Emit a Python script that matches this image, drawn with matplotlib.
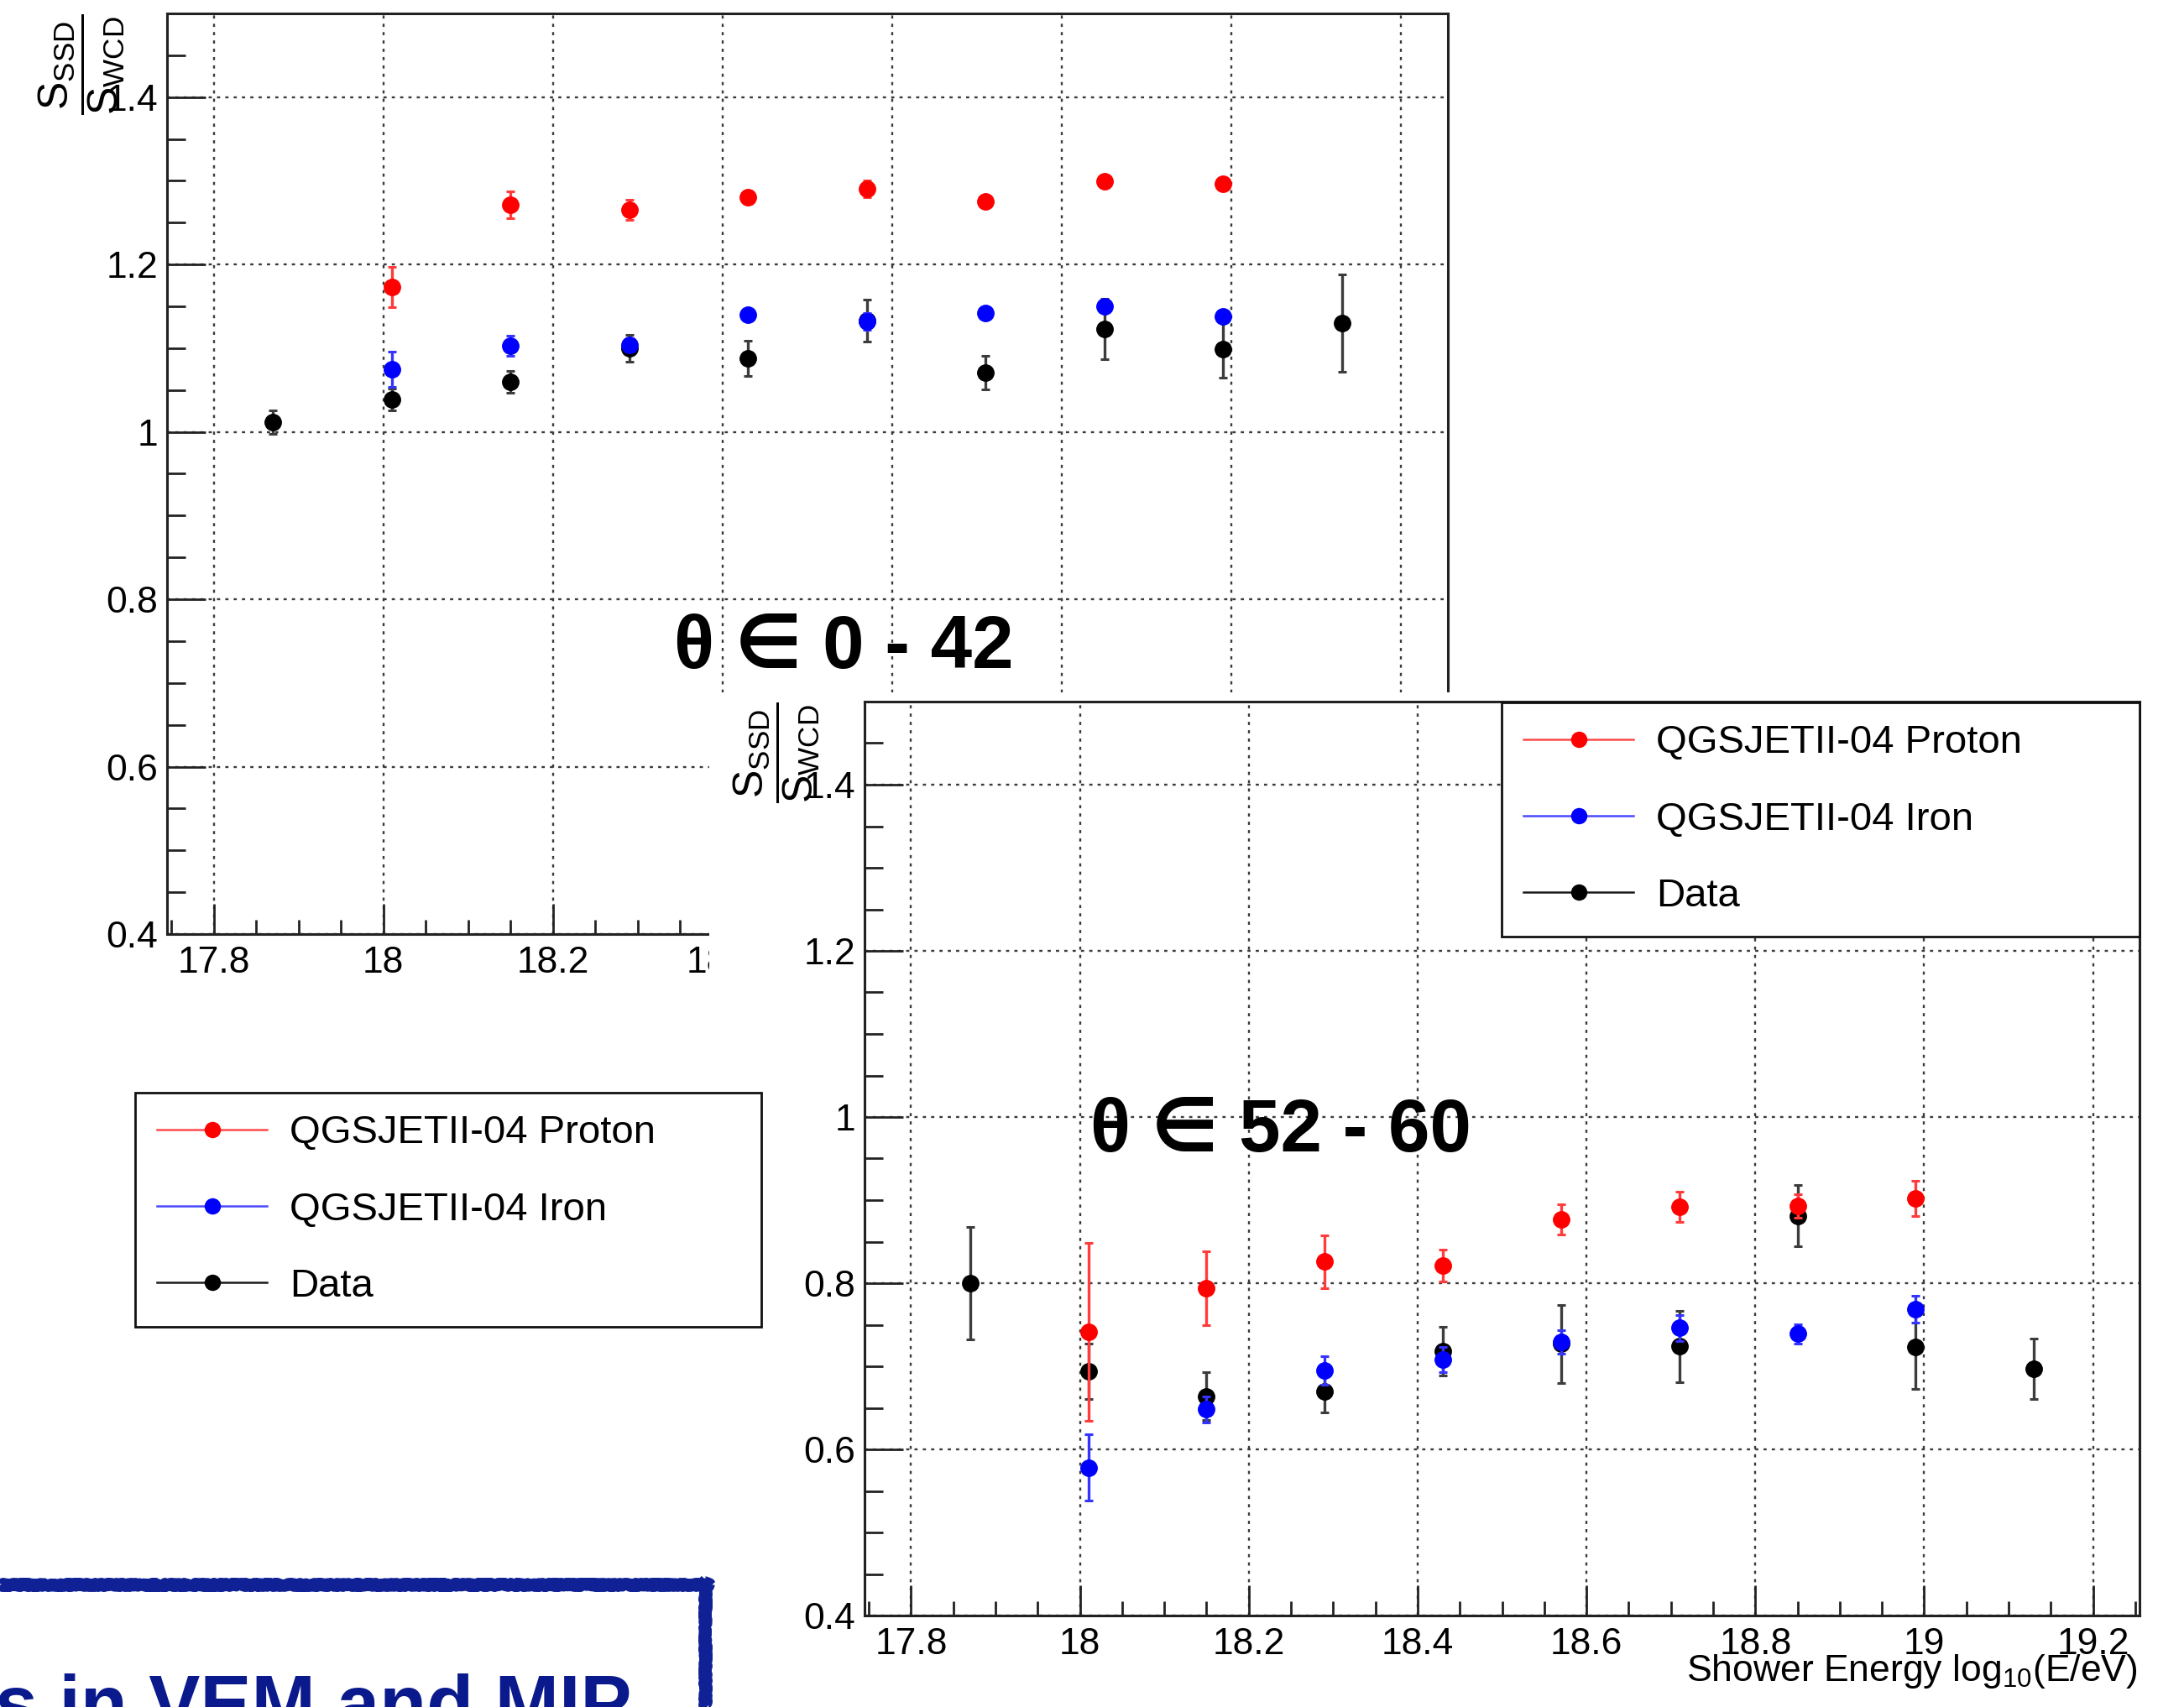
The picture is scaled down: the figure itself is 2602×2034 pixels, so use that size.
import matplotlib
matplotlib.use("Agg")
import matplotlib.pyplot as plt
from matplotlib.lines import Line2D
from matplotlib.patches import Rectangle
from matplotlib.ticker import MultipleLocator, FuncFormatter

plt.rcParams["font.family"] = ["Liberation Sans", "DejaVu Sans"]
plt.rcParams["mathtext.fontset"] = "custom"
plt.rcParams["mathtext.rm"] = "Liberation Sans"
plt.rcParams["mathtext.it"] = "Liberation Sans:italic"
plt.rcParams["mathtext.bf"] = "Liberation Sans:bold"

# ---- data -------------------------------------------------------------
energy_data = [17.87, 18.01, 18.15, 18.29, 18.43, 18.57, 18.71, 18.85, 18.99, 19.13]
energy_sim = [18.01, 18.15, 18.29, 18.43, 18.57, 18.71, 18.85, 18.99]

series_labels = ["QGSJETII-04 Proton", "QGSJETII-04 Iron", "Data"]

# zenith 0 - 42 deg
proton_low = [1.173, 1.271, 1.265, 1.280, 1.290, 1.275, 1.299, 1.296]
proton_low_err = [0.024, 0.016, 0.012, 0.008, 0.010, 0.006, 0.006, 0.006]
iron_low = [1.075, 1.103, 1.104, 1.140, 1.132, 1.142, 1.150, 1.138]
iron_low_err = [0.021, 0.012, 0.008, 0.006, 0.010, 0.006, 0.006, 0.006]
data_low = [1.012, 1.039, 1.060, 1.100, 1.088, 1.133, 1.071, 1.123, 1.099, 1.130]
data_low_err = [0.014, 0.013, 0.013, 0.016, 0.021, 0.025, 0.020, 0.036, 0.034, 0.058]

# zenith 52 - 60 deg
proton_high = [0.741, 0.794, 0.826, 0.821, 0.877, 0.892, 0.893, 0.902]
proton_high_err = [0.107, 0.044, 0.032, 0.019, 0.018, 0.018, 0.014, 0.021]
iron_high = [0.578, 0.648, 0.695, 0.708, 0.729, 0.746, 0.739, 0.769]
iron_high_err = [0.040, 0.016, 0.017, 0.015, 0.014, 0.016, 0.012, 0.016]
data_high = [0.800, 0.694, 0.664, 0.670, 0.718, 0.727, 0.724, 0.881, 0.723, 0.697]
data_high_err = [0.068, 0.033, 0.029, 0.026, 0.029, 0.047, 0.043, 0.037, 0.050, 0.036]

# ---- figure -----------------------------------------------------------
W, H = 2602, 2034
fig = plt.figure(figsize=(W / 100, H / 100), dpi=100)


def fx(px):
    return px / W


def fy(py):
    return 1 - py / H


def axes_from_px(x0, y0, x1, y1, **kw):
    return fig.add_axes([fx(x0), fy(y1), fx(x1) - fx(x0), fy(y0) - fy(y1)], **kw)


RED, BLUE, BLACK = "#ff0000", "#0000ff", "#000000"
FRAME = "#222222"


def style_axes(ax):
    ax.set_xlim(17.745, 19.255)
    ax.set_ylim(0.4, 1.5)
    ax.xaxis.set_major_locator(MultipleLocator(0.2))
    ax.xaxis.set_minor_locator(MultipleLocator(0.05))
    ax.yaxis.set_major_locator(MultipleLocator(0.2))
    ax.yaxis.set_minor_locator(MultipleLocator(0.05))
    fmt = FuncFormatter(lambda v, p: f"{round(v, 2):g}")
    ax.xaxis.set_major_formatter(fmt)
    ax.yaxis.set_major_formatter(fmt)
    ax.tick_params(axis="both", which="both", direction="in", top=False,
                   right=False, width=2, color=FRAME, labelsize=32)
    ax.tick_params(axis="y", which="major", length=33, pad=8)
    ax.tick_params(axis="y", which="minor", length=16)
    ax.tick_params(axis="x", which="major", length=26, pad=10)
    ax.tick_params(axis="x", which="minor", length=12)
    for sp in ax.spines.values():
        sp.set_linewidth(2.2)
        sp.set_color(FRAME)
    ax.set_axisbelow(True)
    ax.grid(which="major", color="#3a3a3a", linestyle=(0, (1.6, 2.6)),
            linewidth=1.7)


def draw_series(ax, p, pe, fe, fee, d, de):
    eb = dict(fmt="o", ms=14, elinewidth=2.4, capsize=3.5, capthick=2.2)
    ax.errorbar(energy_data, d, yerr=de, color=BLACK, ecolor="#3c3c3c",
                zorder=3, **eb)
    ax.errorbar(energy_sim, p, yerr=pe, color=RED, ecolor="#ff3b3b",
                zorder=4, **eb)
    ax.errorbar(energy_sim, fe, yerr=fee, color=BLUE, ecolor="#3434ff",
                zorder=5, **eb)


def legend_handles():
    return [Line2D([], [], color=c, lw=1.8, marker="o", ms=13,
                   markerfacecolor=m, markeredgecolor=m)
            for c, m in (("#ff4a4a", RED), ("#4a4aff", BLUE),
                         ("#1a1a1a", BLACK))]


leg_kw = dict(loc="upper left", mode="expand", borderaxespad=0,
              fontsize=34, borderpad=0.56, labelspacing=1.0,
              handlelength=2.77, handletextpad=0.57, numpoints=1,
              frameon=True, fancybox=False, framealpha=1,
              edgecolor="#111111")

ratio_label = r"$\dfrac{\mathrm{S}_{\mathrm{SSD}}}{\mathrm{S}_{\mathrm{WCD}}}$"

# ---- upper-left panel (0 - 42 deg) ------------------------------------
ax1 = axes_from_px(199, 16, 1725, 1113)
ax1.set_zorder(0)
style_axes(ax1)
draw_series(ax1, proton_low, proton_low_err, iron_low, iron_low_err,
            data_low, data_low_err)
ax1.text(fx(97), fy(16), ratio_label, transform=fig.transFigure,
         rotation=90, ha="center", va="top", fontsize=36)

# white sheet on which the second panel sits
fig.add_artist(Rectangle((fx(845), 0), 1 - fx(845), fy(825),
                         transform=fig.transFigure, facecolor="white",
                         edgecolor="none", zorder=1))

# ---- lower-right panel (52 - 60 deg) ----------------------------------
ax2 = axes_from_px(1030, 836, 2549, 1925)
ax2.set_zorder(2)
style_axes(ax2)
draw_series(ax2, proton_high, proton_high_err, iron_high, iron_high_err,
            data_high, data_high_err)
ax2.text(fx(925), fy(836), ratio_label, transform=fig.transFigure,
         rotation=90, ha="center", va="top", fontsize=36)
ax2.text(fx(2547), fy(2003), r"Shower Energy log$_{\mathrm{10}}$(E/eV)",
         transform=fig.transFigure, ha="right", va="baseline", fontsize=32)

leg2 = ax2.legend(legend_handles(), series_labels,
                  bbox_to_anchor=(fx(1789), fy(1109), fx(2549) - fx(1789),
                                  fy(837) - fy(1109)),
                  bbox_transform=fig.transFigure, **leg_kw)
leg2.get_frame().set_linewidth(2)

# legend belonging to the first panel
leg1 = fig.legend(legend_handles(), series_labels,
                  bbox_to_anchor=(fx(161), fy(1570), fx(907) - fx(161),
                                  fy(1302) - fy(1570)),
                  bbox_transform=fig.transFigure, **leg_kw)
leg1.get_frame().set_linewidth(2)
leg1.set_zorder(5)

# zenith-range captions
fig.text(fx(803), fy(796), "θ ∈ 0 - 42", fontsize=64, fontweight="bold",
         ha="left", va="baseline", zorder=4)
fig.text(fx(1299), fy(1372), "θ ∈ 52 - 60", fontsize=64, fontweight="bold",
         ha="left", va="baseline", zorder=4)

# framed banner at the lower left
BANNER = "#0f2195"
for xs, ys in (([0, fx(846)], [fy(1888), fy(1888)]),
               ([fx(840), fx(840)], [fy(1882), 0])):
    ln = Line2D(xs, ys, transform=fig.transFigure, color=BANNER, lw=9.4,
                solid_capstyle="butt", zorder=6)
    ln.set_sketch_params(scale=2.0, length=4, randomness=3)
    fig.add_artist(ln)
fig.text(fx(-6), fy(2061), "s in VEM and MIP", fontsize=66,
         fontweight="bold", color="#0a1a8c", ha="left", va="baseline",
         zorder=6)

fig.savefig("out.png", dpi=100, facecolor="white")
